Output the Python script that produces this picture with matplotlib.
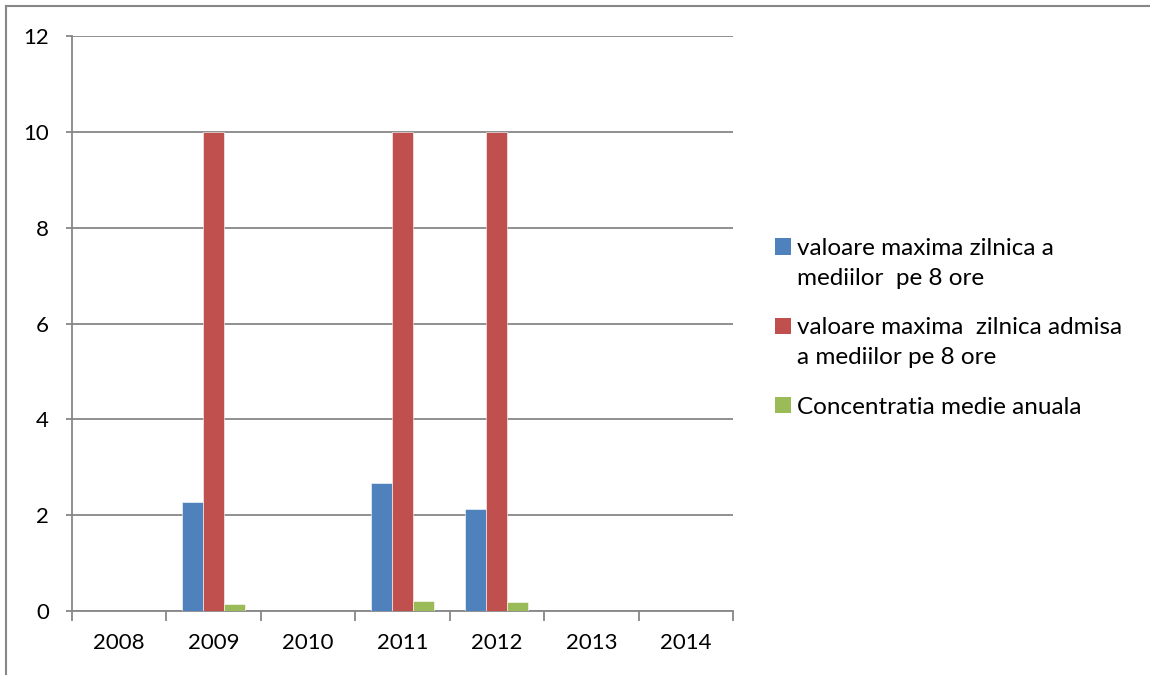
import numpy as np
import matplotlib
matplotlib.use('Agg')
import matplotlib.pyplot as plt
from matplotlib.patches import Patch, Rectangle
from matplotlib.lines import Line2D
from matplotlib.legend_handler import HandlerPatch

plt.rcParams['font.family'] = ['Lato', 'DejaVu Sans']

#data
years = ['2008', '2009', '2010', '2011', '2012', '2013', '2014']
val_max = [0, 2.28, 0, 2.68, 2.13, 0, 0]
val_admisa = [0, 10, 0, 10, 10, 0, 0]
conc_medie = [0, 0.14, 0, 0.20, 0.18, 0, 0]
labels = ['valoare maxima zilnica a\nmediilor  pe 8 ore',
          'valoare maxima  zilnica admisa\na mediilor pe 8 ore',
          'Concentratia medie anuala']
colors = ['#4F81BD', '#C0504D', '#9BBB59']
gray = '#878787'

fig = plt.figure(figsize=(11.5, 6.75), dpi=100)
ax = fig.add_axes([72/1150, 1 - 611/675, (733 - 72)/1150, (611 - 36)/675])

x = np.arange(len(years))
w = 0.667 / 3
for i, vals in enumerate([val_max, val_admisa, conc_medie]):
    ax.bar(x + (i - 1) * w, vals, width=w, color=colors[i],
           edgecolor='white', linewidth=0.4, zorder=3)

ax.set_xlim(-0.5, len(years) - 0.5)
ax.set_ylim(0, 12)
ax.set_yticks(np.arange(0, 13, 2))
ax.yaxis.grid(True, color=gray, lw=1.3, zorder=0)

#category labels in the middle, tick marks between categories
ax.set_xticks(x)
ax.set_xticklabels(years)
ax.set_xticks(np.arange(-0.5, len(years), 1), minor=True)
ax.tick_params(axis='x', which='major', length=0, pad=16, labelsize=16)
ax.tick_params(axis='x', which='minor', length=7, width=1.3, color=gray)
ax.tick_params(axis='y', length=4.5, width=1.3, color=gray, pad=12, labelsize=16)

for s in ['top', 'right']:
    ax.spines[s].set_visible(False)
for s in ['left', 'bottom']:
    ax.spines[s].set_color(gray)
    ax.spines[s].set_linewidth(1.3)

#legend, square sits next to the first line of a two line label
def first_line(legend, orig_handle, xdescent, ydescent, width, height, fontsize):
    return Rectangle((-xdescent, -ydescent + 0.69 * fontsize), width, height)

handles = [Patch(facecolor=c, edgecolor='none') for c in colors]
hmap = {handles[0]: HandlerPatch(patch_func=first_line),
        handles[1]: HandlerPatch(patch_func=first_line)}
leg = fig.legend(handles, labels, loc='center left', handler_map=hmap,
                 bbox_to_anchor=(775/1150, 1 - 328/675), frameon=False,
                 fontsize=17.5, handlelength=0.65, handleheight=0.65,
                 handletextpad=0.25, labelspacing=1.19, borderpad=0,
                 borderaxespad=0)
for t in leg.get_texts():
    t.set_linespacing(1.5)

#outer chart border (top and left)
fig.add_artist(Line2D([6/1150, 1], [1 - 5.5/675, 1 - 5.5/675], color=gray, lw=1.5))
fig.add_artist(Line2D([6/1150, 6/1150], [0, 1 - 5.5/675], color=gray, lw=1.5))

fig.savefig('out.png', dpi=100)
